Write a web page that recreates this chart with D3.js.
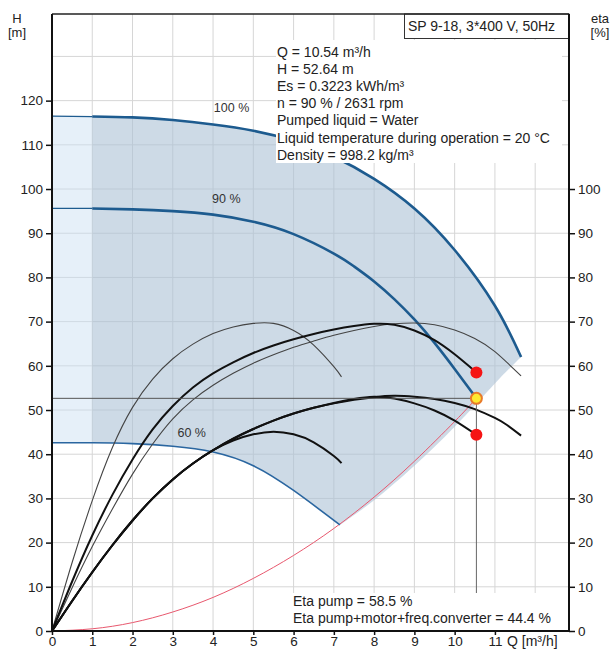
<!DOCTYPE html>
<html>
<head>
<meta charset="utf-8">
<script src="https://cdn.jsdelivr.net/npm/d3@7"></script>
<style>
  body { margin: 0; background: #fff; }
  svg { display: block; font-family: "Liberation Sans", Arial, sans-serif; }
</style>
</head>
<body>
<script>
// pump curves, [Q m3/h, H m]
const head100 = [[0, 116.5], [1, 116.4], [2, 116.2], [3, 115.6], [4, 114.6], [5, 113.2], [6, 110.9], [7, 107.3], [8, 102.3], [9, 95.6], [10, 86.2], [11, 73.6], [11.65, 62]];
const head90 = [[0, 95.6], [1, 95.6], [2, 95.4], [3, 95], [4, 94.2], [5, 92.6], [6, 89.8], [7, 85.4], [7.5, 82.5], [8, 79.1], [8.5, 75.1], [9, 70.5], [9.5, 65.2], [10, 59.3], [10.54, 52.64]];
const head60 = [[0, 42.6], [1, 42.6], [2, 42.4], [3, 41.8], [4, 40.5], [5, 37.4], [6, 31.8], [7.15, 24]];
const rangeEdge = [[7.15, 24], [8, 29.6], [9, 37.4], [10, 46.2], [11, 56], [11.65, 62]];
const systemCurve = [[0, 0], [1, 0.5], [2, 1.9], [3, 4.3], [4, 7.6], [5, 11.9], [6, 17.1], [7, 23.2], [8, 30.3], [9, 38.4], [10, 47.4], [10.54, 52.64]];

// efficiency curves, [Q m3/h, eta %]
const etaPump60 = [[0, 0], [0.5, 15.5], [1, 29.5], [1.5, 41.5], [2, 50.6], [2.5, 57], [3, 61.6], [3.5, 64.9], [4, 67.3], [4.5, 68.8], [5, 69.6], [5.5, 69.6], [6, 68], [6.5, 64.7], [7, 59.8], [7.19, 57.5]];
const etaPump90 = [[0, 0], [0.5, 11.2], [1, 21.6], [1.5, 30.8], [2, 38.8], [2.5, 45.6], [3, 50.9], [3.5, 55.1], [4, 58.3], [4.5, 60.8], [5, 62.9], [5.5, 64.6], [6, 66], [6.5, 67.2], [7, 68.2], [7.5, 69], [8, 69.5], [8.5, 69.3], [9, 68], [9.5, 65.8], [10, 62.6], [10.54, 58.5]];
const etaPump100 = [[0, 0], [0.5, 9.8], [1, 19.1], [1.5, 27.6], [2, 35.5], [2.5, 42.3], [3, 48], [3.5, 52.3], [4, 55.6], [4.5, 58.3], [5, 60.6], [5.5, 62.5], [6, 64.2], [6.5, 65.6], [7, 66.9], [7.5, 68], [8, 68.9], [8.5, 69.5], [9, 69.7], [9.5, 69.3], [10, 68.1], [10.5, 66.2], [11, 63.2], [11.65, 57.7]];
const etaTotal60 = [[0, 0], [0.5, 6.8], [1, 13.3], [1.5, 19.4], [2, 25], [2.5, 30], [3, 34.3], [3.5, 37.9], [4, 40.9], [4.5, 43.1], [5, 44.5], [5.5, 45.1], [6, 44.5], [6.5, 42.7], [7, 39.6], [7.19, 38]];
const etaTotal90 = [[0, 0], [0.5, 6.8], [1, 13.3], [1.5, 19.4], [2, 25], [2.5, 30], [3, 34.3], [3.5, 37.9], [4, 40.9], [4.5, 43.5], [5, 45.7], [5.5, 47.6], [6, 49.2], [6.5, 50.5], [7, 51.6], [7.5, 52.5], [8, 53], [8.5, 52.6], [9, 51.5], [9.5, 49.9], [10, 47.6], [10.54, 44.4]];
const etaTotal100 = [[0, 0], [0.5, 6.8], [1, 13.3], [1.5, 19.4], [2, 25], [2.5, 30], [3, 34.3], [3.5, 37.9], [4, 40.9], [4.5, 43.5], [5, 45.7], [5.5, 47.6], [6, 49.2], [6.5, 50.5], [7, 51.5], [7.5, 52.3], [8, 52.9], [8.5, 53.2], [9, 53], [9.5, 52.5], [10, 51.6], [10.5, 50.2], [11, 48.2], [11.3, 46.6], [11.65, 44.2]];

const dutyPoint = [10.54, 52.64];
const etaPoints = [[10.54, 58.5], [10.54, 44.4]];

const qTicks = d3.range(0, 12);
const qGrid = d3.range(1, 13);
const hTicks = d3.range(0, 121, 10);
const hGrid = d3.range(10, 131, 10);
const etaTicks = d3.range(0, 101, 10);

const speedLabels = [["100 %", 4.46, 117.5], ["90 %", 4.33, 96.8], ["60 %", 3.47, 43.9]];
const titleText = "SP 9-18, 3*400 V, 50Hz";
const infoLines = ["Q = 10.54 m³/h", "H = 52.64 m", "Es = 0.3223 kWh/m³", "n = 90 % / 2631 rpm", "Pumped liquid = Water", "Liquid temperature during operation = 20 °C", "Density = 998.2 kg/m³"];
const etaLines = ["Eta pump = 58.5 %", "Eta pump+motor+freq.converter = 44.4 %"];

const svgWidth = 614, svgHeight = 651;
const plotLeft = 52, plotRight = 569, plotTop = 14, plotBottom = 631;

const xScale = d3.scaleLinear().domain([0, 12.84]).range([plotLeft, plotRight]);
const yScale = d3.scaleLinear().domain([0, 139.6]).range([plotBottom, plotTop]);

const line = d3.line().x(d => xScale(d[0])).y(d => yScale(d[1])).curve(d3.curveNatural);

const svg = d3.select("body").
  append("svg").
  attr("width", svgWidth).
  attr("height", svgHeight);

svg.append("rect").attr("width", svgWidth).attr("height", svgHeight).attr("fill", "#fff");

// grid
svg.append("g").
  selectAll("line").
  data(qGrid).
  enter().
  append("line").
  attr("x1", d => xScale(d)).attr("x2", d => xScale(d)).
  attr("y1", plotTop).attr("y2", plotBottom).
  attr("stroke", "#d6d6d6").attr("stroke-width", 1);
svg.append("g").
  selectAll("line").
  data(hGrid).
  enter().
  append("line").
  attr("x1", plotLeft).attr("x2", plotRight).
  attr("y1", d => yScale(d)).attr("y2", d => yScale(d)).
  attr("stroke", "#d6d6d6").attr("stroke-width", 1);

// operating range shading
const joinPaths = parts => parts.map((p, i) => i === 0 ? line(p) : line(p).replace(/^M/, "L")).join("") + "Z";
const lowQ = c => c.filter(d => d[0] <= 1);
const highQ = c => c.filter(d => d[0] >= 1);

svg.append("path").
  attr("d", joinPaths([lowQ(head100), lowQ(head60).slice().reverse()])).
  attr("fill", "rgb(200,222,242)").attr("fill-opacity", 0.45);
svg.append("path").
  attr("d", joinPaths([highQ(head100), rangeEdge.slice().reverse(), highQ(head60).slice().reverse()])).
  attr("fill", "rgb(172,193,213)").attr("fill-opacity", 0.6);

// system curve
svg.append("path").attr("d", line(systemCurve)).
  attr("fill", "none").attr("stroke", "#e8586e").attr("stroke-width", 1);

// head curves
svg.append("path").attr("d", line(head60)).
  attr("fill", "none").attr("stroke", "#2a66a0").attr("stroke-width", 1.6);
[head100, head90].forEach(c => {
  svg.append("path").attr("d", line(lowQ(c))).
    attr("fill", "none").attr("stroke", "#1d5b8f").attr("stroke-width", 1.2);
  svg.append("path").attr("d", line(highQ(c))).
    attr("fill", "none").attr("stroke", "#1d5b8f").attr("stroke-width", 2.6);
});

// efficiency curves
[etaPump60, etaPump100].forEach(c => {
  svg.append("path").attr("d", line(c)).
    attr("fill", "none").attr("stroke", "#444").attr("stroke-width", 1.1);
});
[etaPump90, etaTotal60, etaTotal90, etaTotal100].forEach(c => {
  svg.append("path").attr("d", line(c)).
    attr("fill", "none").attr("stroke", "#111").attr("stroke-width", 2);
});

// duty point guides
svg.append("line").
  attr("x1", plotLeft).attr("x2", xScale(dutyPoint[0])).
  attr("y1", yScale(dutyPoint[1])).attr("y2", yScale(dutyPoint[1])).
  attr("stroke", "#555").attr("stroke-width", 1);
svg.append("line").
  attr("x1", xScale(dutyPoint[0])).attr("x2", xScale(dutyPoint[0])).
  attr("y1", yScale(dutyPoint[1])).attr("y2", plotBottom).
  attr("stroke", "#666").attr("stroke-width", 1);

// text boxes
svg.append("rect").attr("x", 276).attr("y", 40).attr("width", 286).attr("height", 123).attr("fill", "#fff");
svg.append("rect").attr("x", 288).attr("y", 593).attr("width", 268).attr("height", 37).attr("fill", "#fff");
svg.append("rect").attr("x", 404.5).attr("y", plotTop).attr("width", plotRight - 404.5).attr("height", 24.5).
  attr("fill", "#fff").attr("stroke", "#333").attr("stroke-width", 1);

svg.append("text").attr("x", 408).attr("y", 31).attr("font-size", 14).attr("fill", "#222").text(titleText);
svg.append("g").
  selectAll("text").
  data(infoLines).
  enter().
  append("text").
  attr("x", 277).attr("y", (d, i) => 57 + i * 17.1).
  attr("font-size", 14).attr("fill", "#222").
  text(d => d);
svg.append("g").
  selectAll("text").
  data(etaLines).
  enter().
  append("text").
  attr("x", 293).attr("y", (d, i) => 606 + i * 17).
  attr("font-size", 14).attr("fill", "#222").
  text(d => d);

svg.append("g").
  selectAll("text").
  data(speedLabels).
  enter().
  append("text").
  attr("x", d => xScale(d[1])).attr("y", d => yScale(d[2])).
  attr("text-anchor", "middle").attr("font-size", 12.5).attr("fill", "#333").
  text(d => d[0]);

// points
svg.append("g").
  selectAll("circle").
  data(etaPoints).
  enter().
  append("circle").
  attr("cx", d => xScale(d[0])).attr("cy", d => yScale(d[1])).
  attr("r", 6).attr("fill", "#f51414");
svg.append("circle").
  attr("cx", xScale(dutyPoint[0])).attr("cy", yScale(dutyPoint[1])).
  attr("r", 5.5).attr("fill", "#ffe930").attr("stroke", "#e87a2a").attr("stroke-width", 2);

// axes
const styleAxis = g => {
  g.select(".domain").remove();
  g.selectAll(".tick line").attr("stroke", "#111").attr("stroke-width", 1.5);
  g.selectAll(".tick text").attr("font-size", 13.5).attr("fill", "#222").attr("font-family", "Liberation Sans, Arial, sans-serif");
};
svg.append("g").
  attr("transform", `translate(${plotLeft},0)`).
  call(d3.axisLeft(yScale).tickValues(hTicks).tickSize(6).tickPadding(3)).
  call(styleAxis);
svg.append("g").
  attr("transform", `translate(${plotRight},0)`).
  call(d3.axisRight(yScale).tickValues(etaTicks).tickSize(6).tickPadding(3)).
  call(styleAxis);
svg.append("g").
  attr("transform", `translate(0,${plotBottom})`).
  call(d3.axisBottom(xScale).tickValues(qTicks).tickSize(4).tickPadding(1)).
  call(styleAxis);

svg.append("line").attr("x1", plotLeft).attr("x2", plotRight).attr("y1", plotTop).attr("y2", plotTop).attr("stroke", "#222").attr("stroke-width", 1.5);
svg.append("line").attr("x1", plotLeft).attr("x2", plotLeft).attr("y1", plotTop).attr("y2", plotBottom + 1).attr("stroke", "#111").attr("stroke-width", 2);
svg.append("line").attr("x1", plotRight).attr("x2", plotRight).attr("y1", plotTop).attr("y2", plotBottom + 1).attr("stroke", "#111").attr("stroke-width", 2);
svg.append("line").attr("x1", plotLeft).attr("x2", plotRight).attr("y1", plotBottom).attr("y2", plotBottom).attr("stroke", "#111").attr("stroke-width", 2);

// axis titles
const axisTitles = [["H", 17, 23], ["[m]", 17, 37], ["eta", 600, 23], ["[%]", 600, 37]];
svg.append("g").
  selectAll("text").
  data(axisTitles).
  enter().
  append("text").
  attr("x", d => d[1]).attr("y", d => d[2]).
  attr("text-anchor", "middle").attr("font-size", 13).attr("fill", "#222").
  text(d => d[0]);
svg.append("text").attr("x", 507).attr("y", 646).attr("font-size", 14).attr("fill", "#222").text("Q [m³/h]");
</script>
</body>
</html>
